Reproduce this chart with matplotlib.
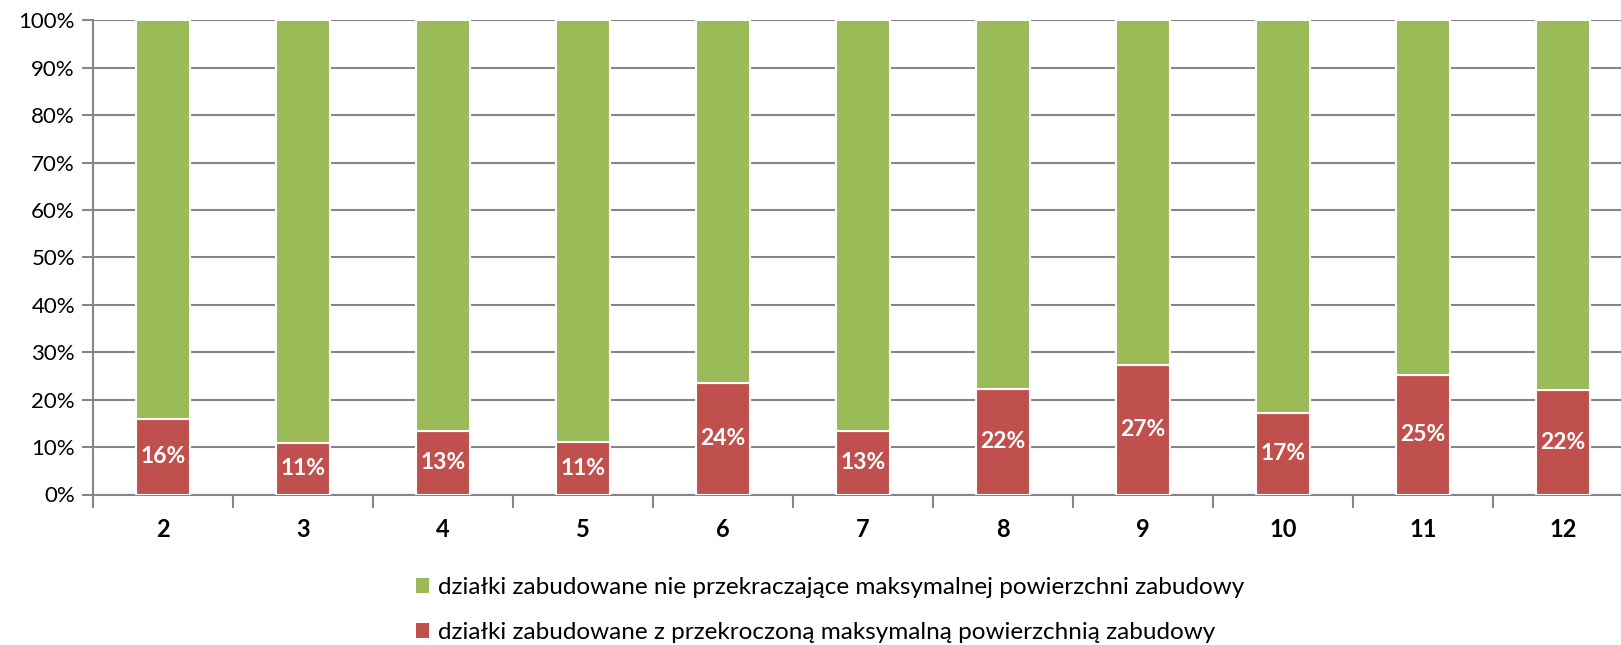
import matplotlib.pyplot as plt
from matplotlib.patches import Patch

plt.rcParams['font.family'] = ['Lato', 'DejaVu Sans']

categories = ['2', '3', '4', '5', '6', '7', '8', '9', '10', '11', '12']
exceeded = [15.9, 10.8, 13.3, 11.0, 23.6, 13.4, 22.3, 27.4, 17.2, 25.2, 22.0]
not_exceeded = [100 - v for v in exceeded]
label_green = 'działki zabudowane nie przekraczające maksymalnej powierzchni zabudowy'
label_red = 'działki zabudowane z przekroczoną maksymalną powierzchnią zabudowy'

green = '#9BBB59'
red = '#C0504D'
grid_col = '#868686'

W, H = 1621, 645
fig = plt.figure(figsize=(W / 100, H / 100), dpi=100)
ax = fig.add_axes([93 / W, (H - 494.5) / H, 1540 / W, (494.5 - 20.3) / H])

x = list(range(len(categories)))
ax.bar(x, exceeded, width=0.39, color=red, edgecolor='white', linewidth=1.5, zorder=3)
ax.bar(x, not_exceeded, bottom=exceeded, width=0.39, color=green,
       edgecolor='white', linewidth=1.5, zorder=3)

for xi, v in zip(x, exceeded):
    ax.text(xi, v / 2, f'{round(v)}%', ha='center', va='center', color='white',
            fontsize=16.5, fontweight='bold', zorder=4)

ax.set_xlim(-0.5, len(categories) - 0.5)
ax.set_ylim(0, 100)
ax.set_yticks(range(0, 101, 10))
ax.set_yticklabels([f'{t}%' for t in range(0, 101, 10)], fontsize=16)
ax.yaxis.grid(True, color=grid_col, linewidth=1.5, zorder=0)
ax.tick_params(axis='y', length=8, width=1.5, color=grid_col, pad=5)

# category boundary ticks, labels at centres
ax.set_xticks([i - 0.5 for i in range(len(categories) + 1)])
ax.set_xticklabels([])
ax.set_xticks(x, minor=True)
ax.set_xticklabels(categories, minor=True, fontsize=17, fontweight='bold')
ax.tick_params(axis='x', which='major', length=9, width=1.5, color=grid_col)
ax.tick_params(axis='x', which='minor', length=0, pad=17)

for s in ['top', 'right']:
    ax.spines[s].set_visible(False)
for s in ['left', 'bottom']:
    ax.spines[s].set_color(grid_col)
    ax.spines[s].set_linewidth(1.5)

handles = [Patch(facecolor=green, edgecolor='none'), Patch(facecolor=red, edgecolor='none')]
fig.legend(handles, [label_green, label_red], loc='center left',
           bbox_to_anchor=(416 / W, (H - 610) / H), frameon=False, fontsize=17.5,
           handlelength=0.55, handleheight=0.55, handletextpad=0.35,
           labelspacing=1.0, borderpad=0, borderaxespad=0)

fig.savefig('out.png', dpi=100)
